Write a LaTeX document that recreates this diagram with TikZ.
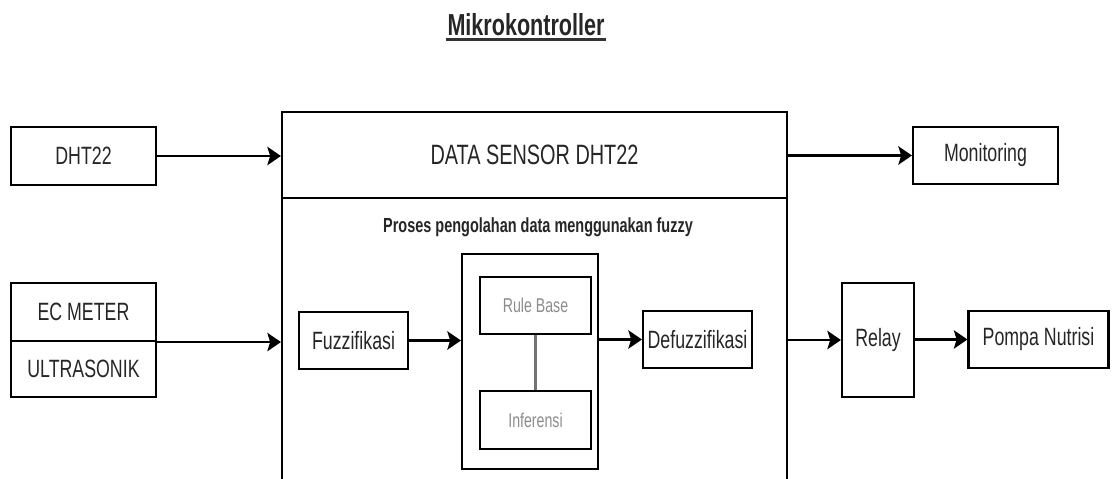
\documentclass[tikz,border=0pt]{standalone}
\usepackage{fontspec}
\setmainfont[FakeStretch=0.71]{Liberation Sans}
\usetikzlibrary{arrows.meta}

\newcommand{\pxu}{0.025cm}

\begin{document}
\begin{tikzpicture} [x=0.025cm, y=-0.025cm, line width=1.5pt]
  % styles for the blocks and the connectors
  \tikzstyle{blok}=[draw, rectangle, inner sep=0pt, text=black!85,
                    font=\fontsize{17.8}{20}\selectfont]
  \tikzstyle{subblok}=[blok, text=black!45, font=\fontsize{14.2}{16}\selectfont]
  \tikzstyle{panah}=[-{Stealth[length=0.34cm, width=0.46cm, inset=0.07cm]}]

  \useasboundingbox (0,0) rectangle (1112,479);
  \clip (0,0) rectangle (1112,479);

  % Title
  \node [inner sep=0pt, font=\bfseries\fontsize{21.6}{24}\selectfont, text=black!85] (judul) at (526,25) {Mikrokontroller};
  \draw [line width=2pt, black!80] ([yshift=-0.1cm]judul.base west) -- ([yshift=-0.1cm]judul.base east);

  % Draw the inputs
  \node [blok, minimum width=145*\pxu, minimum height=58*\pxu] (dht) at (83.5,156) {DHT22};
  \node [blok, minimum width=145*\pxu, minimum height=58*\pxu] (ec) at (83.5,312) {EC METER};
  \node [blok, minimum width=145*\pxu, minimum height=56*\pxu] (us) at (83.5,369) {ULTRASONIK};

  % Microcontroller box
  \node [blok, minimum width=505*\pxu, minimum height=86*\pxu, font=\fontsize{19.9}{22}\selectfont] (sensor) at (534.5,155) {DATA SENSOR DHT22};
  \node [blok, minimum width=505*\pxu, minimum height=302*\pxu] (proses) at (534.5,349) {};
  \node [font=\bfseries\fontsize{14.5}{16}\selectfont, text=black!85] (judulproses) at (538,227) {Proses pengolahan data menggunakan fuzzy};

  % fuzzy blocks
  \node [blok, minimum width=109*\pxu, minimum height=57*\pxu] (fuzz) at (353.5,340.5) {Fuzzifikasi};
  \node [blok, minimum width=136*\pxu, minimum height=215*\pxu] (rules) at (530,361.5) {};
  \node [subblok, minimum width=111*\pxu, minimum height=57*\pxu] (rulebase) at (535.5,305.5) {Rule Base};
  \node [subblok, minimum width=111*\pxu, minimum height=58*\pxu] (infer) at (535.5,420) {Inferensi};
  \node [blok, minimum width=109*\pxu, minimum height=57*\pxu] (defuzz) at (697.5,339.5) {Defuzzifikasi};

  % Draw the outputs
  \node [blok, minimum width=145*\pxu, minimum height=57*\pxu] (monitor) at (985.5,155.5) {Monitoring};
  \node [blok, minimum width=72*\pxu, minimum height=114*\pxu] (relay) at (878,340) {Relay};
  \node [blok, minimum width=140*\pxu, minimum height=57*\pxu] (pompa) at (1038.5,339.5) {Pompa Nutrisi};

  % connectors
  \draw [panah] (dht.east) -- (dht.east -| sensor.west);
  \draw [panah] (sensor.east |- monitor.west) -- (monitor.west);
  \draw [panah] (ec.south east) -- (ec.south east -| proses.west);
  \draw [panah] (fuzz.east) -- (fuzz.east -| rules.west);
  \draw [panah] (rules.east |- defuzz.west) -- (defuzz.west);
  \draw [panah] (proses.east |- relay.west) -- (relay.west);
  \draw [panah] (relay.east |- pompa.west) -- (pompa.west);
  \draw [black!55] (rulebase.south) -- (infer.north);

\end{tikzpicture}
\end{document}
